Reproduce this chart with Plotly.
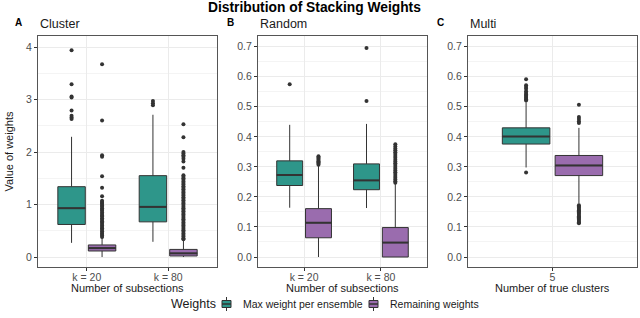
import plotly.graph_objects as go

# ---------------- data ----------------
title = "Distribution of Stacking Weights"
legend_title = "Weights"
series_names = ["Max weight per ensemble", "Remaining weights"]
series_colors = ["#2E968A", "#9A6CAE"]

cluster_cats = ["k = 20", "k = 80"]
random_cats = ["k = 20", "k = 80"]
multi_cats = ["5"]

# Cluster panel (A)
cluster_max_q1 = [0.62, 0.67]
cluster_max_med = [0.93, 0.955]
cluster_max_q3 = [1.34, 1.55]
cluster_max_lo = [0.27, 0.29]
cluster_max_hi = [2.29, 2.71]
cluster_rem_q1 = [0.115, 0.02]
cluster_rem_med = [0.17, 0.07]
cluster_rem_q3 = [0.23, 0.145]
cluster_rem_lo = [0.0, 0.0]
cluster_rem_hi = [0.37, 0.33]
cluster_max_out = [
    [3.94, 3.29, 3.06, 3.04, 2.79, 2.69, 2.66, 2.63],
    [2.97, 2.93, 2.89],
]
cluster_rem_out = [
    [3.67, 2.60, 1.94, 1.91, 1.54, 1.32, 1.16, 1.07, 1.05, 1.03, 1.01, 0.98, 0.96,
     0.93, 0.90, 0.88, 0.85, 0.82, 0.79, 0.77, 0.74, 0.71, 0.68, 0.66, 0.63, 0.60,
     0.57, 0.55, 0.52, 0.49, 0.46, 0.44, 0.41, 0.38],
    [2.53, 2.28, 2.00, 1.97, 1.94, 1.91, 1.87, 1.82, 1.70, 1.56, 1.53, 1.50, 1.47,
     1.44, 1.41, 1.38, 1.35, 1.32, 1.29, 1.26, 1.23, 1.20, 1.17, 1.14, 1.11, 1.08,
     1.05, 1.02, 0.99, 0.96, 0.93, 0.90, 0.87, 0.84, 0.81, 0.78, 0.75, 0.72, 0.69,
     0.66, 0.63, 0.60, 0.57, 0.54, 0.51, 0.48, 0.45, 0.42, 0.39, 0.36, 0.34],
]

# Random panel (B)
random_max_q1 = [0.238, 0.224]
random_max_med = [0.273, 0.255]
random_max_q3 = [0.320, 0.310]
random_max_lo = [0.164, 0.163]
random_max_hi = [0.440, 0.443]
random_rem_q1 = [0.064, 0.0]
random_rem_med = [0.114, 0.048]
random_rem_q3 = [0.161, 0.098]
random_rem_lo = [0.0, 0.0]
random_rem_hi = [0.303, 0.243]
random_max_out = [[0.575], [0.696, 0.519]]
random_rem_out = [
    [0.335, 0.331, 0.327, 0.323, 0.319, 0.315, 0.311, 0.307],
    [0.375, 0.368, 0.361, 0.355, 0.349, 0.343, 0.336, 0.330, 0.324, 0.318, 0.312,
     0.306, 0.300, 0.294, 0.288, 0.282, 0.276, 0.270, 0.264, 0.258, 0.252, 0.247],
]

# Multi panel (C)
multi_max_q1 = [0.376]
multi_max_med = [0.401]
multi_max_q3 = [0.430]
multi_max_lo = [0.298]
multi_max_hi = [0.515]
multi_rem_q1 = [0.271]
multi_rem_med = [0.305]
multi_rem_q3 = [0.338]
multi_rem_lo = [0.178]
multi_rem_hi = [0.430]
multi_max_out = [[0.592, 0.572, 0.566, 0.560, 0.552, 0.546, 0.541, 0.537, 0.533,
                  0.529, 0.525, 0.521, 0.281]]
multi_rem_out = [[0.507, 0.466, 0.459, 0.452, 0.446, 0.172, 0.168, 0.164, 0.160,
                  0.156, 0.152, 0.148, 0.144, 0.140, 0.136, 0.132, 0.128, 0.124,
                  0.120, 0.116, 0.112]]

panels = [
    dict(label="A", name="Cluster", cats=cluster_cats, xtitle="Number of subsections",
         stats=[(cluster_max_q1, cluster_max_med, cluster_max_q3, cluster_max_lo, cluster_max_hi, cluster_max_out),
                (cluster_rem_q1, cluster_rem_med, cluster_rem_q3, cluster_rem_lo, cluster_rem_hi, cluster_rem_out)],
         yrange=[-0.19, 4.21], dtick=1, minor=0.5, tickformat=".0f"),
    dict(label="B", name="Random", cats=random_cats, xtitle="Number of subsections",
         stats=[(random_max_q1, random_max_med, random_max_q3, random_max_lo, random_max_hi, random_max_out),
                (random_rem_q1, random_rem_med, random_rem_q3, random_rem_lo, random_rem_hi, random_rem_out)],
         yrange=[-0.0333, 0.7357], dtick=0.1, minor=0.05, tickformat=".1f"),
    dict(label="C", name="Multi", cats=multi_cats, xtitle="Number of true clusters",
         stats=[(multi_max_q1, multi_max_med, multi_max_q3, multi_max_lo, multi_max_hi, multi_max_out),
                (multi_rem_q1, multi_rem_med, multi_rem_q3, multi_rem_lo, multi_rem_hi, multi_rem_out)],
         yrange=[-0.0333, 0.7357], dtick=0.1, minor=0.05, tickformat=".1f"),
]

# ---------------- layout constants ----------------
W, H = 640, 318
x_domains_px = [(38, 217), (258, 427), (468, 637)]
y_top_px, y_bot_px = 36, 267
dodge = 0.1875
box_w = 0.3375
FONT = "Liberation Sans, Arial, Helvetica, sans-serif"
ink = "#333333"
text_col = "#1a1a1a"

def px(xp):
    return xp / W

def py(yp):
    return 1 - yp / H

fig = go.Figure()
layout = dict(
    width=W, height=H, margin=dict(l=0, r=0, t=0, b=0, autoexpand=False),
    paper_bgcolor="white", plot_bgcolor="white",
    font=dict(family=FONT, color=text_col),
    showlegend=False,
)
annotations = []
shapes = []

for p_i, p in enumerate(panels):
    sfx = "" if p_i == 0 else str(p_i + 1)
    xa, ya = "x" + sfx, "y" + sfx
    ncat = len(p["cats"])
    positions = list(range(1, ncat + 1))
    for s_i, (q1, med, q3, lo, hi, outs) in enumerate(p["stats"]):
        off = -dodge if s_i == 0 else dodge
        xs = [c + off for c in positions]
        fig.add_trace(go.Box(
            x=xs, q1=q1, median=med, q3=q3, lowerfence=lo, upperfence=hi,
            width=box_w, whiskerwidth=0, fillcolor=series_colors[s_i],
            line=dict(color=ink, width=1), boxpoints=False,
            name=series_names[s_i], xaxis=xa, yaxis=ya, hoverinfo="skip",
        ))
        # thicker median line (ggplot style)
        for xc, m in zip(xs, med):
            fig.add_trace(go.Scatter(
                x=[xc - box_w / 2, xc + box_w / 2], y=[m, m], mode="lines",
                line=dict(color=ink, width=2), xaxis=xa, yaxis=ya, hoverinfo="skip",
            ))
        # outliers
        ox, oy = [], []
        for xc, vals in zip(xs, outs):
            ox += [xc] * len(vals)
            oy += vals
        fig.add_trace(go.Scatter(
            x=ox, y=oy, mode="markers",
            marker=dict(color=ink, size=4, line=dict(width=0)),
            xaxis=xa, yaxis=ya, hoverinfo="skip",
        ))

    x0, x1 = x_domains_px[p_i]
    axis_common = dict(
        showline=True, mirror=True, linecolor="#555555", linewidth=1,
        ticks="outside", ticklen=3, tickcolor=ink, tickwidth=1,
        tickfont=dict(size=10.5, color="#4D4D4D", family=FONT),
        zeroline=False, showgrid=True, gridcolor="#EBEBEB", gridwidth=1,
        automargin=False,
    )
    layout["xaxis" + sfx] = dict(
        axis_common, domain=[px(x0), px(x1)], anchor=ya,
        range=[0.4, ncat + 0.6], tickmode="array", tickvals=positions,
        ticktext=p["cats"], ticklabelstandoff=-3,
    )
    layout["yaxis" + sfx] = dict(
        axis_common, domain=[py(y_bot_px), py(y_top_px)], anchor=xa,
        range=p["yrange"], dtick=p["dtick"], tick0=0, tickformat=p["tickformat"],
        minor=dict(dtick=p["minor"], tick0=0, showgrid=True, gridcolor="#F4F4F4", gridwidth=1),
    )
    # x-axis title
    annotations.append(dict(
        text=p["xtitle"], x=px((x0 + x1) / 2), y=py(288), xref="paper", yref="paper",
        xanchor="center", yanchor="middle", showarrow=False,
        font=dict(size=11, color=text_col, family=FONT),
    ))
    annotations.append(dict(
        text=p["name"], x=px(x0), y=py(24), xref="paper", yref="paper",
        xanchor="left", yanchor="middle", showarrow=False,
        font=dict(size=12.5, color=text_col, family=FONT),
    ))
    letter_x = [18, 230, 440][p_i]
    annotations.append(dict(
        text="<b>%s</b>" % p["label"], x=px(letter_x), y=py(23), xref="paper", yref="paper",
        xanchor="center", yanchor="middle", showarrow=False,
        font=dict(size=10, color="black", family=FONT),
    ))

layout["yaxis"]["title"] = dict(text="Value of weights", font=dict(size=11, color=text_col), standoff=10)

annotations.append(dict(
    text="<b>%s</b>" % title, x=px(314), y=py(8), xref="paper", yref="paper",
    xanchor="center", yanchor="middle", showarrow=False,
    font=dict(size=13.8, color="black", family=FONT),
))

# ---------------- manual legend (ggplot style keys) ----------------
leg_y = 304
annotations.append(dict(
    text=legend_title, x=px(169), y=py(leg_y), xref="paper", yref="paper",
    xanchor="left", yanchor="middle", showarrow=False,
    font=dict(size=12.5, color=text_col, family=FONT),
))
key_x = [222, 369]
for s_i, name in enumerate(series_names):
    kx = key_x[s_i]
    shapes.append(dict(type="line", xref="paper", yref="paper",
                       x0=px(kx + 4.5), x1=px(kx + 4.5), y0=py(leg_y - 7), y1=py(leg_y + 7),
                       line=dict(color=ink, width=1)))
    shapes.append(dict(type="rect", xref="paper", yref="paper",
                       x0=px(kx), x1=px(kx + 9), y0=py(leg_y - 3.5), y1=py(leg_y + 3.5),
                       fillcolor=series_colors[s_i], line=dict(color=ink, width=1)))
    shapes.append(dict(type="line", xref="paper", yref="paper",
                       x0=px(kx), x1=px(kx + 9), y0=py(leg_y), y1=py(leg_y),
                       line=dict(color=ink, width=1.5)))
    annotations.append(dict(
        text=name, x=px(kx + 19), y=py(leg_y), xref="paper", yref="paper",
        xanchor="left", yanchor="middle", showarrow=False,
        font=dict(size=10.5, color=text_col, family=FONT),
    ))

layout["annotations"] = annotations
layout["shapes"] = shapes
fig.update_layout(**layout)
fig.write_html(
    "out.html",
    config={"displayModeBar": False},
    post_script="document.body.style.margin='0';document.body.style.overflow='hidden';",
)
